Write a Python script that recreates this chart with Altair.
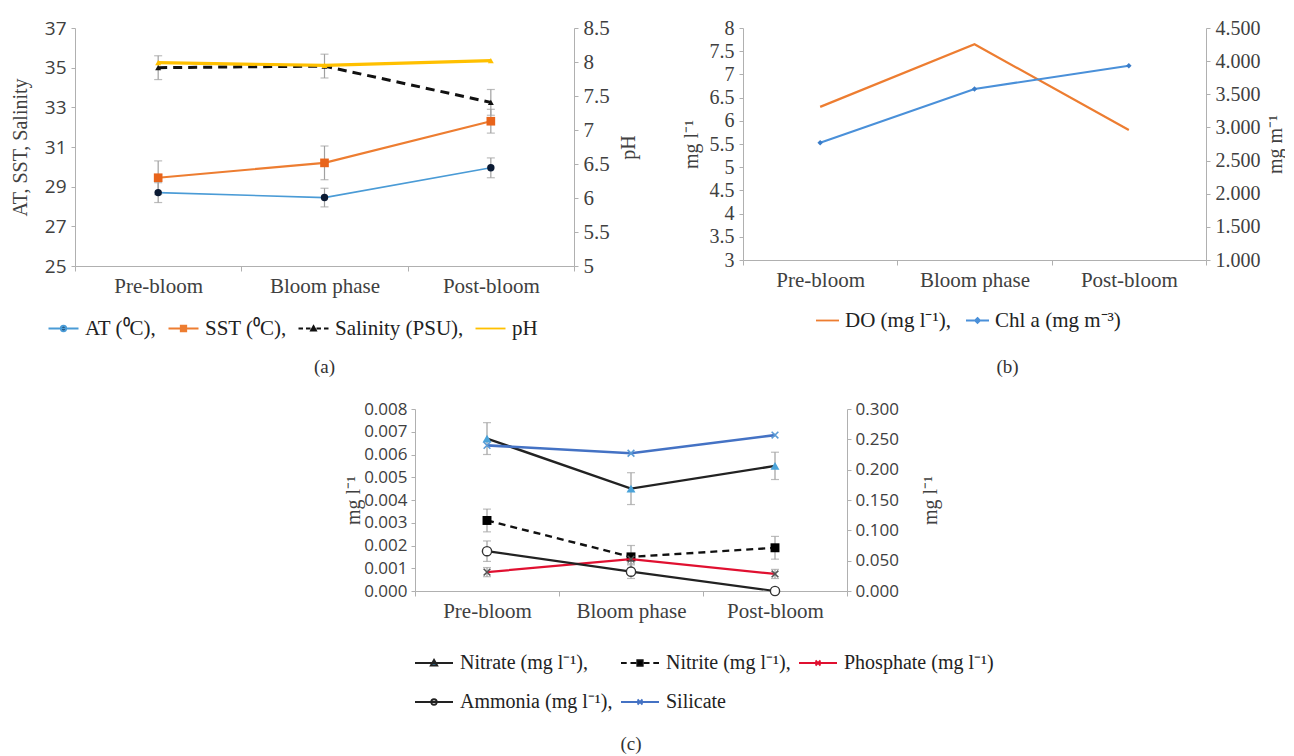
import altair as alt
import pandas as pd

# ---------------- data ----------------
cats = ["Pre-bloom", "Bloom phase", "Post-bloom"]

# panel (a)
at_vals = [28.70, 28.45, 29.95]
at_err = [0.50, 0.47, 0.50]
sst_vals = [29.45, 30.20, 32.30]
sst_err = [0.85, 0.85, 0.60]
sal_vals = [35.00, 35.08, 33.25]
sal_err = [0.60, 0.60, 0.65]
ph_vals = [7.99, 7.95, 8.02]
a_left_ticks = [25, 27, 29, 31, 33, 35, 37]
a_right_ticks = [5, 5.5, 6, 6.5, 7, 7.5, 8, 8.5]

# panel (b)
do_vals = [6.30, 7.65, 5.80]
chl_vals = [2.77, 3.58, 3.93]
b_left_ticks = [3, 3.5, 4, 4.5, 5, 5.5, 6, 6.5, 7, 7.5, 8]
b_right_ticks = [1.0, 1.5, 2.0, 2.5, 3.0, 3.5, 4.0, 4.5]

# panel (c)
nitrate_vals = [0.0067, 0.0045, 0.0055]
nitrate_err = [0.0007, 0.0007, 0.0006]
nitrite_vals = [0.0031, 0.0015, 0.0019]
nitrite_err = [0.0005, 0.0005, 0.0005]
phosphate_vals = [0.00083, 0.0014, 0.00075]
phosphate_err = [0.0002, 0.0002, 0.0002]
ammonia_vals = [0.00175, 0.00085, 0.0]
ammonia_err = [0.00045, 0.0003, 0.0]
silicate_vals = [0.240, 0.227, 0.257]
c_left_ticks = [0, 0.001, 0.002, 0.003, 0.004, 0.005, 0.006, 0.007, 0.008]
c_right_ticks = [0, 0.05, 0.10, 0.15, 0.20, 0.25, 0.30]

SERIF = "Liberation Serif"
SANS = "Open Sans"
TXT = "#404040"
AXC = "#b0b0b0"
ERRC = "#a0a0a0"


# legend symbol paths (line + marker), half-length L in symbol units
def p_line(L):
    return f"M-{L},0L{L},0"


def p_dash(L):
    return f"M-{L},0L-{L*0.7:.2f},0M-{L*0.5:.2f},0L-{L*0.2:.2f},0M{L*0.2:.2f},0L{L*0.5:.2f},0M{L*0.7:.2f},0L{L},0"


CIRC = "M0.55,0A0.55,0.55,0,1,1,-0.55,0A0.55,0.55,0,1,1,0.55,0Z"
SQ = "M-0.55,-0.55L0.55,-0.55L0.55,0.55L-0.55,0.55Z"
TRI = "M0,-0.65L0.65,0.5L-0.65,0.5Z"
STRI = "M0,-0.5L0.5,0.4L-0.5,0.4Z"
XM = "M-0.5,-0.5L0.5,0.5M-0.5,0.5L0.5,-0.5"
DIA = "M0,-0.5L0.5,0L0,0.5L-0.5,0Z"
X_SHAPE = "M-1,-1L1,1M-1,1L1,-1"


def frame(vals, errs=None):
    d = {"cat": cats, "value": vals}
    if errs is not None:
        d["lo"] = [v - e for v, e in zip(vals, errs)]
        d["hi"] = [v + e for v, e in zip(vals, errs)]
    return pd.DataFrame(d)


def xenc():
    return alt.X(
        "cat:N", sort=cats, bandPosition=0.5,
        scale=alt.Scale(type="band", domain=cats, paddingInner=0, paddingOuter=0),
        axis=alt.Axis(title=None, labelAngle=0, labelFont=SERIF, labelFontSize=21,
                      labelColor=TXT, domainColor=AXC, tickColor=AXC, tickBand="extent",
                      tickSize=5, labelPadding=4),
    )


def yaxis(orient, ticks, fmt, title, font, tpad, lsize=19, lpad=5):
    kw = {}
    if orient == "right":
        kw = dict(titleAngle=270, titleBaseline="top")
    return alt.Axis(orient=orient, values=ticks, format=fmt, title=title, grid=False,
                    labelFont=font, labelFontSize=lsize, labelColor=TXT,
                    titleFont=SERIF, titleFontSize=20, titleFontWeight="normal",
                    titleColor=TXT, titlePadding=tpad, domainColor=AXC, tickColor=AXC,
                    tickSize=4, labelPadding=lpad, **kw)


def series(df, field, ax, domain, color, width, dash=None, marker=None):
    y = alt.Y(field + ":Q", scale=alt.Scale(domain=domain, nice=False, zero=False), axis=ax)
    line_kw = dict(color=color, strokeWidth=width)
    if dash:
        line_kw["strokeDash"] = dash
    layers = [alt.Chart(df).mark_line(**line_kw).encode(x=xenc(), y=y)]
    if marker:
        layers.append(alt.Chart(df).mark_point(**marker).encode(x=xenc(), y=y))
    return layers


def errbars(df, ax, domain):
    sc = alt.Scale(domain=domain, nice=False, zero=False)
    rule = alt.Chart(df).mark_rule(color=ERRC, strokeWidth=1.2).encode(
        x=xenc(), y=alt.Y("lo:Q", scale=sc, axis=ax), y2="hi:Q")
    t1 = alt.Chart(df).mark_tick(color=ERRC, size=8, thickness=1.2).encode(
        x=xenc(), y=alt.Y("lo:Q", scale=sc, axis=ax))
    t2 = alt.Chart(df).mark_tick(color=ERRC, size=8, thickness=1.2).encode(
        x=xenc(), y=alt.Y("hi:Q", scale=sc, axis=ax))
    return [rule, t1, t2]


def legend_layer(names, fills, strokes, paths, lx, ly, columns, colpad, loff, rowpad=19, fsize=21):
    ldf = pd.DataFrame({"series": names})
    lg = alt.Legend(title=None, orient="none", legendX=lx, legendY=ly, direction="horizontal",
                    columns=columns, symbolSize=100, symbolStrokeWidth=1.8, gridAlign="none",
                    labelFont=SERIF, labelFontSize=fsize, labelColor="#222",
                    labelLimit=500, labelOffset=loff, columnPadding=colpad, rowPadding=rowpad,
                    symbolOpacity=1)
    return alt.Chart(ldf).mark_point(filled=True, opacity=1).encode(
        fill=alt.Fill("series:N", scale=alt.Scale(domain=names, range=fills), legend=lg),
        stroke=alt.Stroke("series:N", scale=alt.Scale(domain=names, range=strokes), legend=lg),
        shape=alt.Shape("series:N", scale=alt.Scale(domain=names, range=paths), legend=lg),
    ).transform_filter("false")


def caption(txt, dx=0, offset=10):
    return alt.Title(txt, orient="bottom", font=SERIF, fontSize=19, fontWeight="normal",
                     color="#333", dx=dx, offset=offset)


# ---------------- panel (a) ----------------
a_dom_l = [25, 37]
a_dom_r = [5, 8.5]
ax_al = yaxis("left", a_left_ticks, "d", "AT, SST, Salinity", SANS, 14)
ax_ar = yaxis("right", a_right_ticks, "", "pH", SERIF, 9, lsize=21)

df_at, df_sst, df_sal, df_ph = (frame(at_vals, at_err), frame(sst_vals, sst_err),
                                frame(sal_vals, sal_err), frame(ph_vals))
a_left = (
    errbars(df_at, ax_al, a_dom_l) + errbars(df_sst, ax_al, a_dom_l) + errbars(df_sal, ax_al, a_dom_l)
    + series(df_at, "value", ax_al, a_dom_l, "#4a9bd6", 1.6,
             marker=dict(shape="circle", filled=True, color="#0b1a33", size=55, opacity=1))
    + series(df_sst, "value", ax_al, a_dom_l, "#ed7d31", 2.2,
             marker=dict(shape="square", filled=True, color="#e8641b", size=75, opacity=1))
    + series(df_sal, "value", ax_al, a_dom_l, "#111111", 3, dash=[9, 6],
             marker=dict(shape="triangle-up", filled=True, color="#111111", size=35, opacity=1))
    + [legend_layer(["AT (⁰C),", "SST (⁰C),", "Salinity (PSU),", "pH"],
                    ["#0b1a33", "#ed7d31", "#111111", "#ffc000"],
                    ["#4a9bd6", "#ed7d31", "#111111", "#ffc000"],
                    [p_line(3) + "M" + CIRC[1:], p_line(3) + "M" + SQ[1:],
                     p_dash(3) + "M" + STRI[1:], p_line(3)],
                    -22, 290, 4, 7, 11)]
)
a_right = series(df_ph, "value", ax_ar, a_dom_r, "#ffc000", 3.2,
                 marker=dict(shape="triangle-up", filled=True, color="#ffc000", size=35, opacity=1))

panel_a = alt.layer(alt.layer(*a_left), alt.layer(*a_right)).resolve_scale(y="independent").properties(
    width=499, height=238, title=caption("(a)", 0, 19))

# ---------------- panel (b) ----------------
b_dom_l = [3, 8]
b_dom_r = [1.0, 4.5]
ax_bl = yaxis("left", b_left_ticks, "", "mg l⁻¹", SERIF, 8, lsize=20)
ax_br = yaxis("right", b_right_ticks, ".3f", "mg m⁻¹", SERIF, 5, lsize=20)
df_do, df_chl = frame(do_vals), frame(chl_vals)
b_left = (
    series(df_do, "value", ax_bl, b_dom_l, "#ed7d31", 2.2)
    + [legend_layer(["DO (mg l⁻¹),", "Chl a (mg m⁻³)"],
                    ["#ed7d31", "#4a90d9"], ["#ed7d31", "#4a90d9"],
                    [p_line(2.3), p_line(2.3) + "M" + DIA[1:]], 74, 282, 2, 10, 7)]
)
b_right = series(df_chl, "value", ax_br, b_dom_r, "#4a90d9", 2.2,
                 marker=dict(shape="diamond", filled=True, color="#3a7cc8", size=30, opacity=1))
panel_b = alt.layer(alt.layer(*b_left), alt.layer(*b_right)).resolve_scale(y="independent").properties(
    width=463, height=232, title=caption("(b)", 33, 27))

# ---------------- panel (c) ----------------
c_dom_l = [0, 0.008]
c_dom_r = [0, 0.30]
ax_cl = yaxis("left", c_left_ticks, ".3f", "mg l⁻¹", SANS, 0, lsize=17, lpad=4)
ax_cr = yaxis("right", c_right_ticks, ".3f", "mg l⁻¹", SANS, 22, lsize=17, lpad=4)
df_ni, df_nt, df_ph2, df_am, df_si = (frame(nitrate_vals, nitrate_err), frame(nitrite_vals, nitrite_err),
                                      frame(phosphate_vals, phosphate_err), frame(ammonia_vals, ammonia_err),
                                      frame(silicate_vals))
c_left = (
    errbars(df_ni, ax_cl, c_dom_l) + errbars(df_nt, ax_cl, c_dom_l)
    + errbars(df_ph2, ax_cl, c_dom_l) + errbars(df_am, ax_cl, c_dom_l)
    + series(df_ni, "value", ax_cl, c_dom_l, "#222222", 2.4,
             marker=dict(shape="triangle-up", filled=True, color="#4ba3d9", size=80, opacity=1))
    + series(df_nt, "value", ax_cl, c_dom_l, "#111111", 2.4, dash=[7, 5],
             marker=dict(shape="square", filled=True, color="#000000", size=80, opacity=1))
    + series(df_ph2, "value", ax_cl, c_dom_l, "#e01030", 2.2,
             marker=dict(shape=X_SHAPE, filled=False, color="#555555", size=45, strokeWidth=1.6, opacity=1))
    + series(df_am, "value", ax_cl, c_dom_l, "#222222", 2.2,
             marker=dict(shape="circle", filled=True, fill="#ffffff", stroke="#333333",
                         strokeWidth=1.4, size=85, opacity=1))
    + [legend_layer(["Nitrate (mg l⁻¹),", "Nitrite (mg l⁻¹),", "Phosphate (mg l⁻¹)",
                     "Ammonia (mg l⁻¹),", "Silicate"],
                    ["#4ba3d9", "#000000", "#555555", "#ffffff", "#4a90d9"],
                    ["#222222", "#111111", "#e01030", "#222222", "#4472c4"],
                    [p_line(3.8) + "M" + TRI[1:], p_dash(3.8) + "M" + SQ[1:],
                     p_line(3.8) + "M" + XM[1:], p_line(3.8) + "M" + CIRC[1:],
                     p_line(3.8) + "M" + XM[1:]],
                    9, 244, 3, 4, 16, fsize=20)]
)
c_right = series(df_si, "value", ax_cr, c_dom_r, "#4472c4", 2.6,
                 marker=dict(shape=X_SHAPE, filled=False, color="#5b9bd5", size=45, strokeWidth=1.6, opacity=1))
panel_c = alt.layer(alt.layer(*c_left), alt.layer(*c_right)).resolve_scale(y="independent").properties(
    width=432, height=182, title=caption("(c)", 0, 23))

spacer = alt.Chart(pd.DataFrame({"cat": cats})).mark_point(opacity=0).encode(
    x=alt.X("cat:N", axis=None)).properties(width=268, height=10)

ind = dict(fill="independent", stroke="independent", shape="independent", color="independent")
top = alt.hconcat(panel_a, panel_b, spacing=42).resolve_scale(**ind)
bottom = alt.hconcat(spacer, panel_c, spacing=0).resolve_scale(**ind)
chart = alt.vconcat(top, bottom, spacing=23).resolve_scale(**ind).properties(
    padding={"left": 2, "top": 9, "right": 0, "bottom": 0}
).configure_view(stroke=None).configure_title(anchor="middle").configure_axis(
    labelFont=SERIF, titleFont=SERIF).configure_legend(labelFont=SERIF)

chart.save("out.html", embed_options={"renderer": "svg", "actions": False})
